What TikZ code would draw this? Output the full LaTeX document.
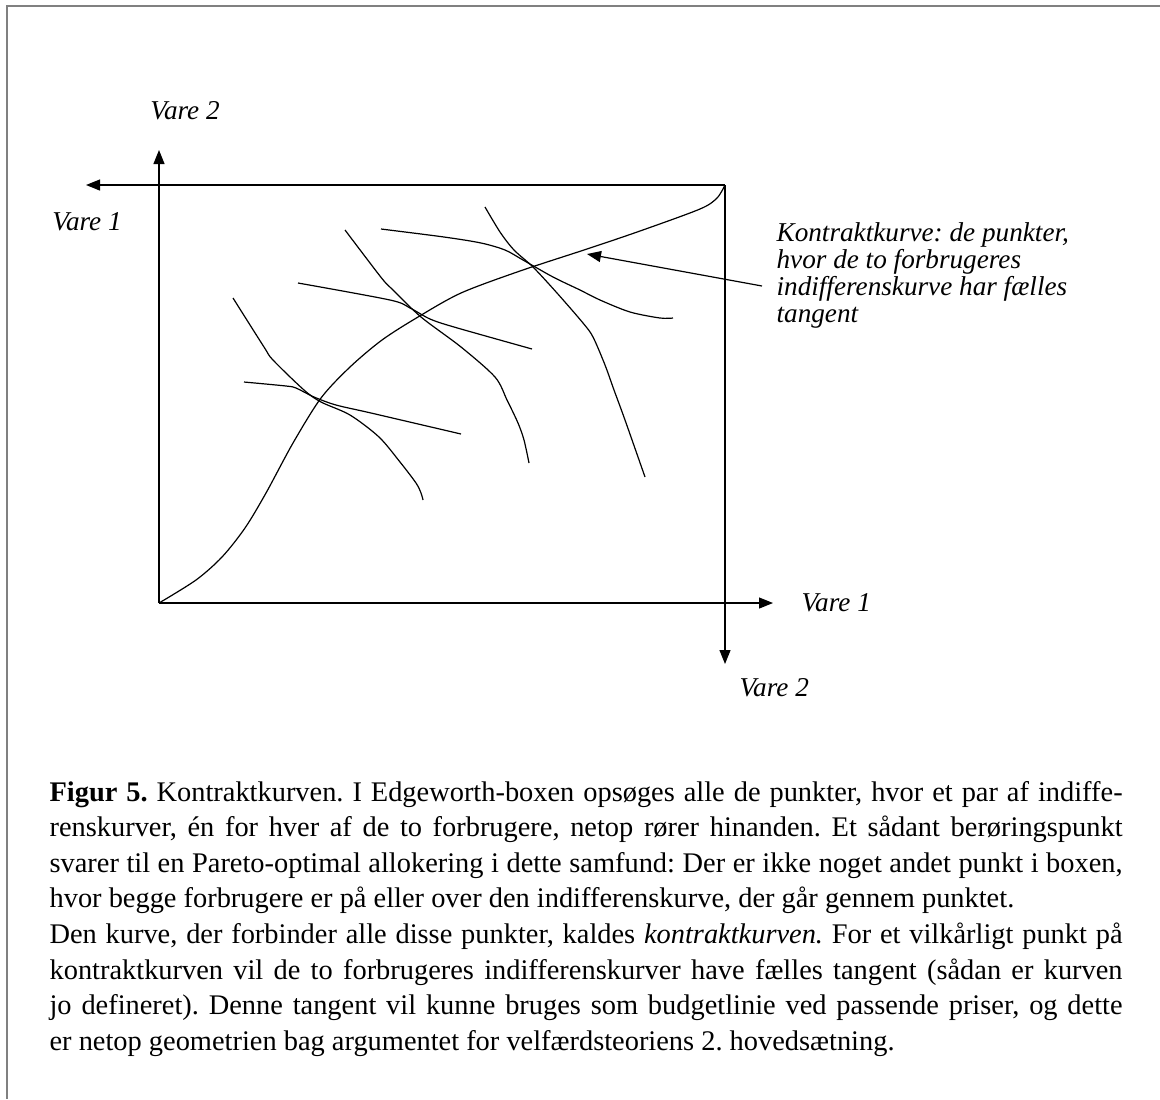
\documentclass[tikz,border=0pt]{standalone}
\usepackage{fontspec}
\setmainfont{Liberation Serif}
\usetikzlibrary{arrows.meta,calc}

\begin{document}
\begin{tikzpicture}
		[x=0.5pt,y=-0.5pt,line width=0.6pt,
		akse/.style={-{Triangle[length=7pt,width=5.5pt]}},
		kurve/.style={smooth,tension=0.5},
		lbl/.style={inner sep=0pt,font=\fontsize{13.6}{15}\selectfont\itshape}]
		\useasboundingbox (0,0) rectangle (1160,1099);
		\draw[gray,line width=0.8pt] (1160,6) -- (7,6) -- (7,1099);
		\coordinate (o1) at (159,603);
		\coordinate (o2) at (725,185);
		\coordinate (y1) at (159,150);
		\coordinate (x1) at (773,603);
		\coordinate (x2) at (86,185);
		\coordinate (y2) at (725,664);
		\path
		\foreach \startNode/\endNode in {o1/y1, o1/x1, o2/x2, o2/y2}
		{
			(\startNode) edge[akse] (\endNode)
		};
		\node[lbl] (v2a) at (185,111) {Vare 2};
		\node[lbl] (v1a) at (87,222) {Vare 1};
		\node[lbl,anchor=west] (v1b) at (801,603) {Vare 1};
		\node[lbl,anchor=west] (v2b) at (739,688) {Vare 2};
		\draw plot[kurve] coordinates {(159,603) (196,580) (222,557) (245,528)
			(266,493) (293,443) (321,398) (350,367) (382,340) (418,317) (461,293)
			(520,271) (587,249) (640,231) (700,209) (717,198) (725,185)};
		\draw plot[kurve] coordinates {(233,298) (264,347) (273,360) (304,390)
			(321,402) (350,415) (379,437) (400,462) (416,483) (421,493) (423,500)};
		\draw plot[kurve] coordinates {(244,382) (286,386) (296,388) (314,397)
			(336,405) (371,413) (461,434)};
		\draw plot[kurve] coordinates {(298,283) (390,300) (410,308) (430,319)
			(454,327) (532,349)};
		\draw plot[kurve] coordinates {(345,230) (370,263) (384,281) (393,290)
			(421,317) (461,347) (495,377) (507,400) (518,423) (524,440) (529,463)};
		\draw plot[kurve] coordinates {(381,229) (444,237) (481,243) (505,250)
			(523,260) (553,277) (580,290) (600,300) (630,312) (660,318) (673,318)};
		\draw plot[kurve] coordinates {(485,207) (500,232) (514,250) (533,267)
			(557,293) (583,323) (593,337) (605,365) (614,390) (625,420) (645,477)};
		\node[lbl,anchor=base west] (kt) at (776,241)
			{\parbox[t]{175pt}{\fontsize{13.6}{13.6}\selectfont\frenchspacing
			Kontraktkurve: de punkter,\\ hvor de to forbrugeres\\
			indifferenskurve har fælles\\ tangent}};
		\coordinate (kk) at (587,254);
		\coordinate (pt) at (762,286);
		\draw[akse] (pt) -- (kk);
		\node[inner sep=0pt,anchor=base west] (cap) at (49,801)
			{\parbox[t]{536.5pt}{\fontsize{14.2}{17.8}\selectfont\frenchspacing\tolerance=10000
			\textbf{Figur 5.} Kontraktkurven. I Edgeworth-boxen opsøges alle de punkter, hvor et par af indiffe-\linebreak
			renskurver, én for hver af de to forbrugere, netop rører hinanden. Et sådant berøringspunkt\linebreak
			svarer til en Pareto-optimal allokering i dette samfund: Der er ikke noget andet punkt i boxen,\linebreak
			hvor begge forbrugere er på eller over den indifferenskurve, der går gennem punktet.\par
			Den kurve, der forbinder alle disse punkter, kaldes \textit{kontraktkurven.} For et vilkårligt punkt på\linebreak
			kontraktkurven vil de to forbrugeres indifferenskurver have fælles tangent (sådan er kurven\linebreak
			jo defineret). Denne tangent vil kunne bruges som budgetlinie ved passende priser, og dette\linebreak
			er netop geometrien bag argumentet for velfærdsteoriens 2. hovedsætning.}};
		\end{tikzpicture}
\end{document}
